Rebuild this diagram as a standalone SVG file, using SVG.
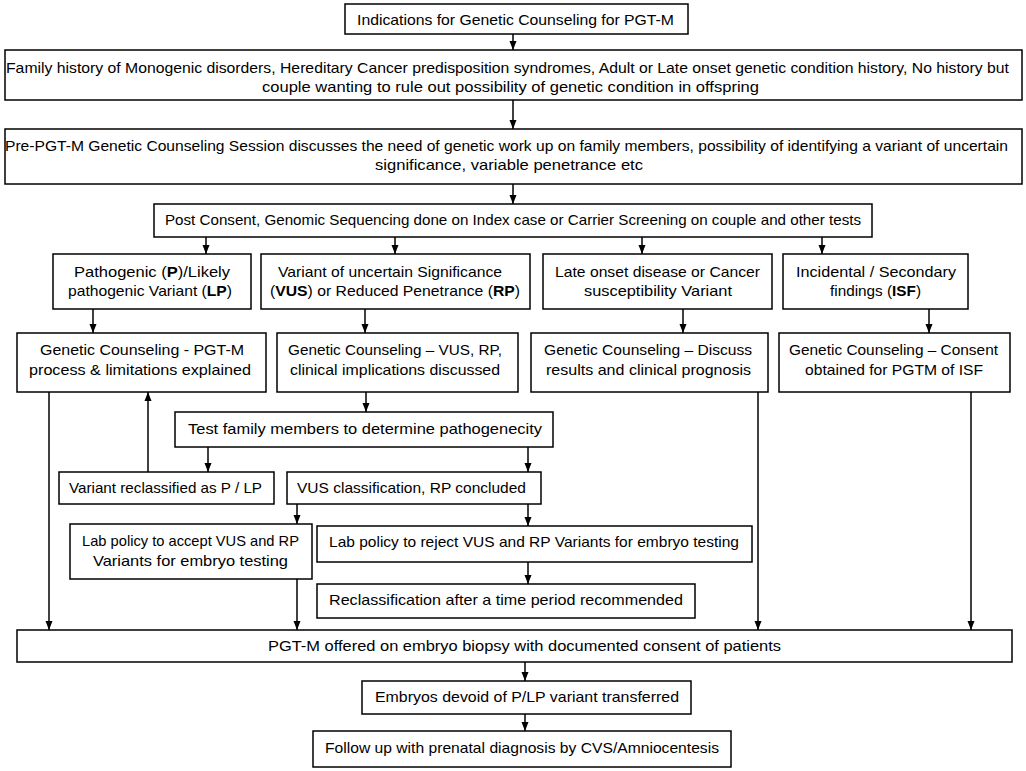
<svg xmlns="http://www.w3.org/2000/svg" width="1026" height="771" viewBox="0 0 1026 771">
<style>
.box{fill:#fff;stroke:#000;stroke-width:1.5}
.t{font-family:"Liberation Sans",Arial,sans-serif;font-size:15px;fill:#000;text-anchor:middle}
.b{font-weight:bold}
.c{fill:none;stroke:#000;stroke-width:1.5;marker-end:url(#ah)}
</style>
<defs>
<marker id="ah" markerUnits="userSpaceOnUse" markerWidth="9" markerHeight="8" refX="9" refY="4" orient="auto">
<path d="M0,0.5 L9,4 L0,7.5 z" fill="#000"/>
</marker>
</defs>
<rect width="1026" height="771" fill="#fff"/>
<g id="connectors">
<path class="c" d="M513,34 V50"/>
<path class="c" d="M513,100 V129"/>
<path class="c" d="M513,184 V204"/>
<path class="c" d="M206,237 V254"/>
<path class="c" d="M395,237 V254"/>
<path class="c" d="M642,237 V254"/>
<path class="c" d="M822,237 V254"/>
<path class="c" d="M93,309 V333"/>
<path class="c" d="M365,309 V333"/>
<path class="c" d="M683,309 V333"/>
<path class="c" d="M929,309 V333"/>
<path class="c" d="M49,392 V630"/>
<path class="c" d="M148,472 V392"/>
<path class="c" d="M366,392 V412"/>
<path class="c" d="M758,392 V630"/>
<path class="c" d="M971,392 V630"/>
<path class="c" d="M208,447 V472"/>
<path class="c" d="M528,447 V472"/>
<path class="c" d="M297,504 V524"/>
<path class="c" d="M528,504 V526"/>
<path class="c" d="M297,579 V630"/>
<path class="c" d="M528,562 V584"/>
<path class="c" d="M525,662 V681"/>
<path class="c" d="M525,714 V731"/>
</g>
<g id="n1"><rect class="box" x="345" y="4" width="343" height="30"/>
<text class="t" x="515.5" y="25" textLength="317" lengthAdjust="spacingAndGlyphs">Indications for Genetic Counseling for PGT-M</text></g>
<g id="n2"><rect class="box" x="5" y="50" width="1017" height="50"/>
<text class="t" x="507.5" y="73" textLength="1003" lengthAdjust="spacingAndGlyphs">Family history of Monogenic disorders, Hereditary Cancer predisposition syndromes, Adult or Late onset genetic condition history, No history but</text>
<text class="t" x="510.5" y="92" textLength="497" lengthAdjust="spacingAndGlyphs">couple wanting to rule out possibility of genetic condition in offspring</text></g>
<g id="n3"><rect class="box" x="5" y="129" width="1017" height="55"/>
<text class="t" x="506.5" y="151" textLength="1003" lengthAdjust="spacingAndGlyphs">Pre-PGT-M Genetic Counseling Session discusses the need of genetic work up on family members, possibility of identifying a variant of uncertain</text>
<text class="t" x="509" y="170" textLength="268" lengthAdjust="spacingAndGlyphs">significance, variable penetrance etc</text></g>
<g id="n4"><rect class="box" x="154" y="204" width="718" height="33"/>
<text class="t" x="513" y="225" textLength="696" lengthAdjust="spacingAndGlyphs">Post Consent, Genomic Sequencing done on Index case or Carrier Screening on couple and other tests</text></g>
<g id="n5a"><rect class="box" x="53" y="254" width="198" height="55"/>
<text class="t" x="152" y="277" textLength="156" lengthAdjust="spacingAndGlyphs">Pathogenic (<tspan class="b">P</tspan>)/Likely</text>
<text class="t" x="150" y="296" textLength="164" lengthAdjust="spacingAndGlyphs">pathogenic Variant (<tspan class="b">LP</tspan>)</text></g>
<g id="n5b"><rect class="box" x="261" y="254" width="269" height="55"/>
<text class="t" x="390" y="277" textLength="224" lengthAdjust="spacingAndGlyphs">Variant of uncertain Significance</text>
<text class="t" x="395" y="296" textLength="250" lengthAdjust="spacingAndGlyphs">(<tspan class="b">VUS</tspan>) or Reduced Penetrance (<tspan class="b">RP</tspan>)</text></g>
<g id="n5c"><rect class="box" x="543" y="254" width="229" height="55"/>
<text class="t" x="657.5" y="277" textLength="205" lengthAdjust="spacingAndGlyphs">Late onset disease or Cancer</text>
<text class="t" x="658" y="296" textLength="148" lengthAdjust="spacingAndGlyphs">susceptibility Variant</text></g>
<g id="n5d"><rect class="box" x="783" y="254" width="185" height="55"/>
<text class="t" x="876" y="277" textLength="160" lengthAdjust="spacingAndGlyphs">Incidental / Secondary</text>
<text class="t" x="875.5" y="296" textLength="91" lengthAdjust="spacingAndGlyphs">findings (<tspan class="b">ISF</tspan>)</text></g>
<g id="n6a"><rect class="box" x="17" y="333" width="249" height="59"/>
<text class="t" x="142" y="355" textLength="204" lengthAdjust="spacingAndGlyphs">Genetic Counseling - PGT-M</text>
<text class="t" x="140" y="375" textLength="222" lengthAdjust="spacingAndGlyphs">process &amp; limitations explained</text></g>
<g id="n6b"><rect class="box" x="277" y="333" width="241" height="59"/>
<text class="t" x="395" y="355" textLength="214" lengthAdjust="spacingAndGlyphs">Genetic Counseling – VUS, RP,</text>
<text class="t" x="395" y="375" textLength="210" lengthAdjust="spacingAndGlyphs">clinical implications discussed</text></g>
<g id="n6c"><rect class="box" x="531" y="333" width="237" height="59"/>
<text class="t" x="648" y="355" textLength="208" lengthAdjust="spacingAndGlyphs">Genetic Counseling – Discuss</text>
<text class="t" x="648.5" y="375" textLength="205" lengthAdjust="spacingAndGlyphs">results and clinical prognosis</text></g>
<g id="n6d"><rect class="box" x="779" y="333" width="231" height="59"/>
<text class="t" x="893.5" y="355" textLength="209" lengthAdjust="spacingAndGlyphs">Genetic Counseling – Consent</text>
<text class="t" x="894" y="375" textLength="178" lengthAdjust="spacingAndGlyphs">obtained for PGTM of ISF</text></g>
<g id="n7"><rect class="box" x="175" y="412" width="378" height="35"/>
<text class="t" x="365" y="434" textLength="354" lengthAdjust="spacingAndGlyphs">Test family members to determine pathogenecity</text></g>
<g id="n8"><rect class="box" x="59" y="472" width="215" height="32"/>
<text class="t" x="165.5" y="493" textLength="193" lengthAdjust="spacingAndGlyphs">Variant reclassified as P / LP</text></g>
<g id="n9"><rect class="box" x="287" y="472" width="254" height="32"/>
<text class="t" x="411.5" y="493" textLength="229" lengthAdjust="spacingAndGlyphs">VUS classification, RP concluded</text></g>
<g id="n10"><rect class="box" x="70" y="524" width="242" height="55"/>
<text class="t" x="190.5" y="546" textLength="217" lengthAdjust="spacingAndGlyphs">Lab policy to accept VUS and RP</text>
<text class="t" x="190.5" y="566" textLength="195" lengthAdjust="spacingAndGlyphs">Variants for embryo testing</text></g>
<g id="n11"><rect class="box" x="317" y="526" width="435" height="36"/>
<text class="t" x="534" y="547" textLength="410" lengthAdjust="spacingAndGlyphs">Lab policy to reject VUS and RP Variants for embryo testing</text></g>
<g id="n12"><rect class="box" x="317" y="584" width="378" height="34"/>
<text class="t" x="506" y="605" textLength="354" lengthAdjust="spacingAndGlyphs">Reclassification after a time period recommended</text></g>
<g id="n13"><rect class="box" x="17" y="630" width="995" height="32"/>
<text class="t" x="524.5" y="651" textLength="513" lengthAdjust="spacingAndGlyphs">PGT-M offered on embryo biopsy with documented consent of patients</text></g>
<g id="n14"><rect class="box" x="362" y="681" width="329" height="33"/>
<text class="t" x="527" y="702" textLength="304" lengthAdjust="spacingAndGlyphs">Embryos devoid of P/LP variant transferred</text></g>
<g id="n15"><rect class="box" x="313" y="731" width="418" height="36"/>
<text class="t" x="522" y="753" textLength="394" lengthAdjust="spacingAndGlyphs">Follow up with prenatal diagnosis by CVS/Amniocentesis</text></g>
</svg>
